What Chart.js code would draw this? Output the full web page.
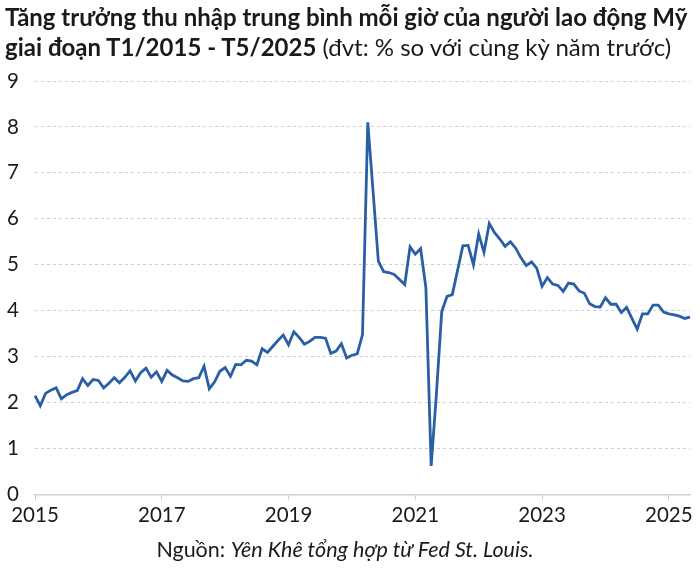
<!DOCTYPE html>
<html>
<head>
<meta charset="utf-8">
<script src="https://cdn.jsdelivr.net/npm/chart.js@4"></script>
<style>
  body { margin: 0; background: #fff; font-family: Lato, sans-serif; color: #1a1a1a; }
  #wrap { position: relative; width: 700px; height: 568px; }
  #title { position: absolute; left: 5px; top: 2px; font-size: 24px; line-height: 30px; white-space: nowrap; }
  #title b { font-weight: 700; }
  #source { position: absolute; left: 0; width: 690px; top: 536px; text-align: center; font-size: 21.5px; }
  canvas { position: absolute; left: 0; top: 0; }
</style>
</head>
<body>
<div id="wrap">
  <canvas id="myChart" width="700" height="568"></canvas>
  <div id="title"><b>Tăng trưởng thu nhập trung bình mỗi giờ của người lao động Mỹ</b><br><b>giai đoạn T1/2015 - T5/2025</b> (đvt: % so với cùng kỳ năm trước)</div>
  <div id="source">Nguồn: <i>Yên Khê tổng hợp từ Fed St. Louis.</i></div>
</div>
<script>
// monthly, Jan 2015 .. May 2025
const startYear = 2015;
const monthCount = 125;
const yearTicks = ["2015", "2017", "2019", "2021", "2023", "2025"];

const wageGrowth = [
  2.15, 1.93, 2.2, 2.27, 2.32, 2.08, 2.17, 2.22, 2.26, 2.52, 2.37, 2.5,
  2.48, 2.32, 2.42, 2.54, 2.43, 2.55, 2.69, 2.47, 2.65, 2.75, 2.55, 2.67,
  2.46, 2.7, 2.6, 2.54, 2.47, 2.46, 2.52, 2.54, 2.79, 2.3, 2.45, 2.68,
  2.76, 2.57, 2.83, 2.82, 2.92, 2.9, 2.82, 3.17, 3.09, 3.22, 3.35, 3.47,
  3.26, 3.54, 3.42, 3.27, 3.33, 3.42, 3.42, 3.4, 3.07, 3.12, 3.28, 2.97,
  3.03, 3.06, 3.48, 8.1, 6.6, 5.08, 4.85, 4.83, 4.79, 4.68, 4.57, 5.39,
  5.23, 5.35, 4.5, 0.62, 2.2, 3.98, 4.31, 4.35, 4.88, 5.41, 5.42, 5.0,
  5.67, 5.27, 5.9, 5.7, 5.56, 5.4, 5.5, 5.36, 5.15, 4.98, 5.06, 4.92,
  4.53, 4.72, 4.58, 4.55, 4.42, 4.6, 4.58, 4.43, 4.38, 4.15, 4.09, 4.08,
  4.28, 4.14, 4.14, 3.96, 4.07, 3.83, 3.6, 3.93, 3.93, 4.12, 4.12, 3.97,
  3.93, 3.91, 3.88, 3.83, 3.86
];

const months = [];
for (let i = 0; i < monthCount; i++) {
  const y = startYear + Math.floor(i / 12);
  const m = (i % 12) + 1;
  months.push(y + "-" + (m < 10 ? "0" + m : m));
}

function yearLabel(index) {
  const lbl = months[index];
  if (lbl.endsWith("-01") && yearTicks.includes(lbl.slice(0, 4))) return lbl.slice(0, 4);
  return "";
}

const ctx = document.getElementById("myChart");
new Chart(ctx, {
  type: "line",
  data: {
    labels: months,
    datasets: [
      {
        data: wageGrowth,
        borderColor: "#2a5fa6",
        borderWidth: 2.8,
        pointRadius: 0,
        tension: 0,
        fill: false,
      },
    ],
  },
  options: {
    responsive: false,
    animation: false,
    devicePixelRatio: 1,
    layout: { padding: { top: 81, left: 0, right: 10, bottom: 37 } },
    plugins: { legend: { display: false }, tooltip: { enabled: false } },
    scales: {
      x: {
        type: "category",
        offset: false,
        grid: {
          drawOnChartArea: false,
          drawTicks: true,
          tickLength: 6,
          color: (c) => (c.index !== undefined && yearLabel(c.index) ? "#cfcfcf" : "rgba(0,0,0,0)"),
        },
        border: { display: true, color: "#d0d0d0", width: 1.5 },
        ticks: {
          autoSkip: false,
          maxRotation: 0,
          padding: 3,
          color: "#1a1a1a",
          font: { family: "Lato", size: 20.5 },
          callback: (val, index) => yearLabel(index),
        },
      },
      y: {
        min: 0,
        max: 9,
        afterFit: (scale) => { scale.width = 35; },
        ticks: {
          stepSize: 1,
          padding: 16,
          color: "#1a1a1a",
          font: { family: "Lato", size: 20.5 },
        },
        grid: { drawTicks: false, color: "#cfcfcf", lineWidth: 1 },
        border: { display: false, dash: [3, 3] },
      },
    },
  },
});
</script>
</body>
</html>
